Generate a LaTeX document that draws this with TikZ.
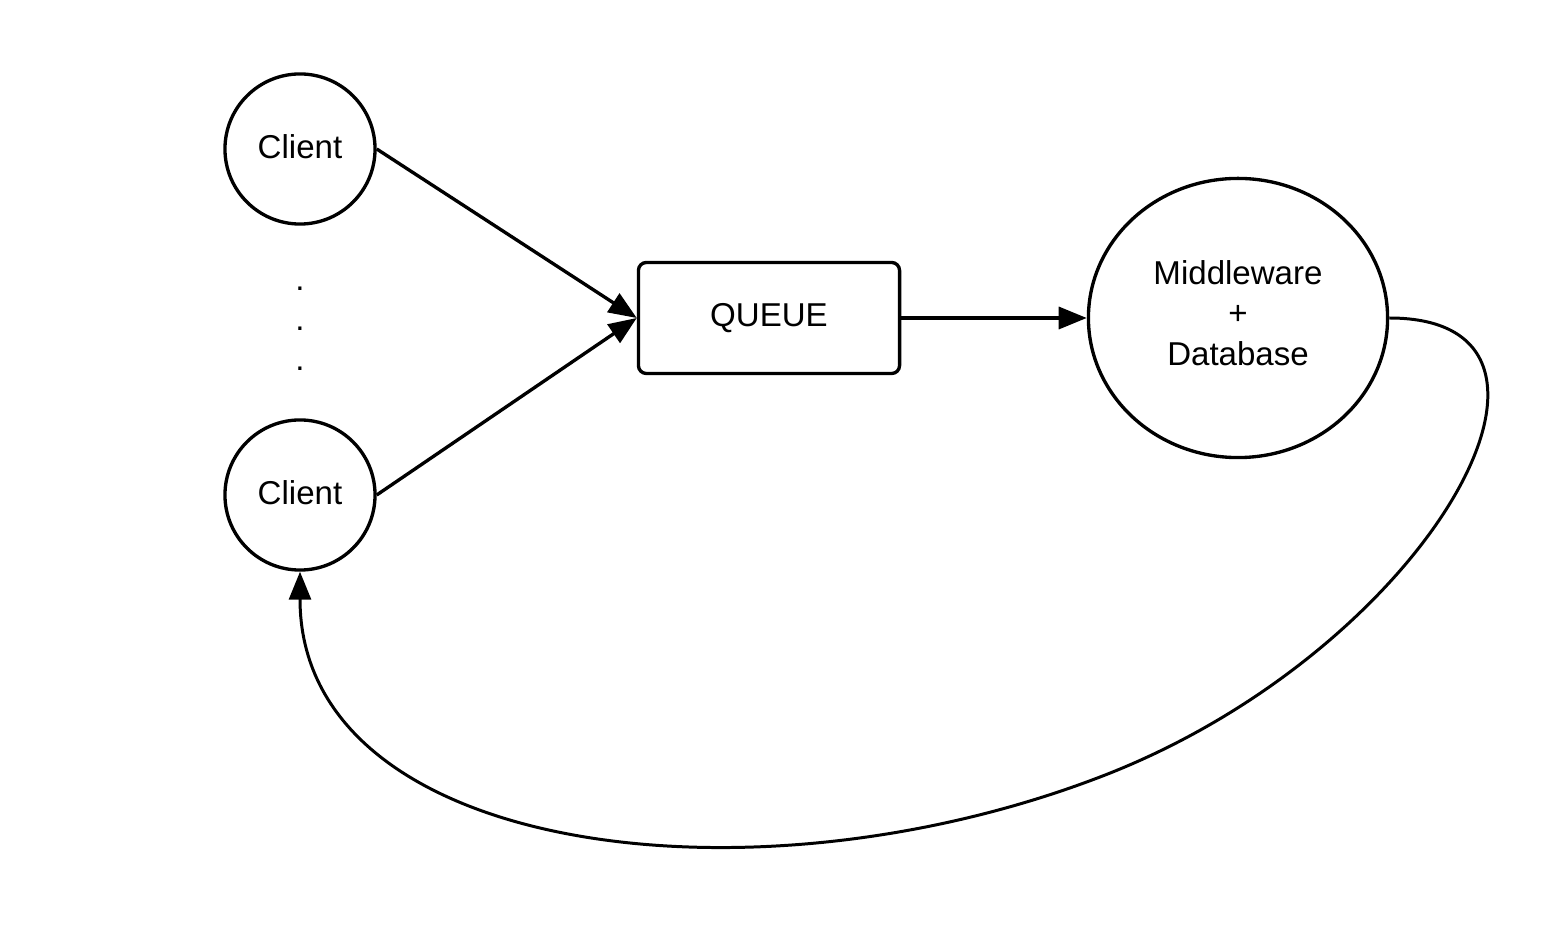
\documentclass[tikz,border=0pt]{standalone}
\usepackage{fontspec}
\setmainfont{Liberation Sans}
\usetikzlibrary{shapes.geometric,arrows.meta}

\begin{document}
\begin{tikzpicture}[x=0.01cm,y=-0.01cm,line width=0.95pt,
  font=\fontsize{9.4}{11.4}\selectfont,
  client/.style={draw,circle,minimum size=1.5cm,inner sep=0pt,text depth=0.05cm},
  pfeil/.style={-{Triangle[length=0.28cm,width=0.22cm]}}]
\useasboundingbox (0,0) rectangle (1560,928);
\node[client] (c1) at (300,149) {Client};
\node[client] (c2) at (300,495) {Client};
\foreach \y/\n in {291/1,331/2,371/3}
  \node[anchor=base,inner sep=0pt] (dot\n) at (300,\y) {.};
\node[draw,rounded corners=0.08cm,minimum width=2.61cm,minimum height=1.11cm,text depth=0.06cm] (queue) at (769,318) {QUEUE};
\node[draw,ellipse,minimum width=2.99cm,minimum height=2.79cm,inner sep=0pt,align=center,text depth=0.1cm] (mw) at (1238,318) {Middleware\\+\\Database};
\coordinate (bend) at (1100,777);
\draw[pfeil] (c1.east) -- (queue.west);
\draw[pfeil] (c2.east) -- (queue.west);
\draw[pfeil] (queue.east) -- (mw.west);
\draw[pfeil,line width=0.85pt] (mw.east) .. controls +(225,0) and +(327,-125) .. (bend)
  .. controls +(-355,136) and +(0,280) .. (c2.south);
\end{tikzpicture}
\end{document}
